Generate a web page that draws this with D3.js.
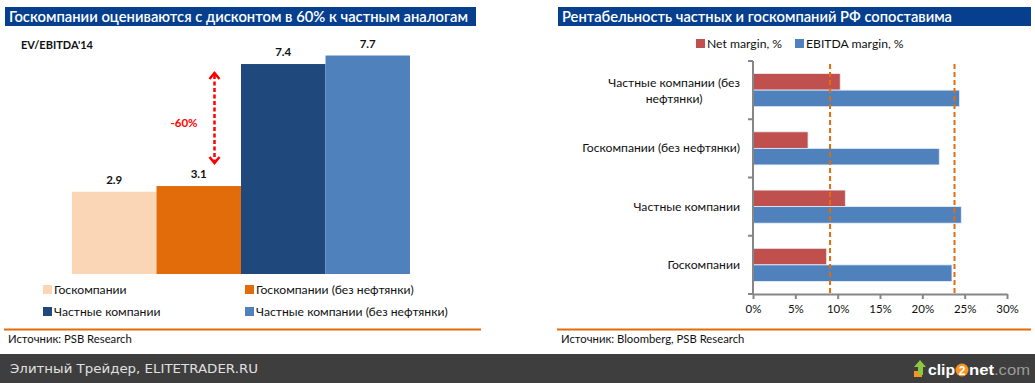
<!DOCTYPE html>
<html><head><meta charset="utf-8">
<script src="https://cdn.jsdelivr.net/npm/d3@7"></script>
<style>
html,body{margin:0;padding:0;background:#fff;}
svg{display:block;font-family:Lato,"Open Sans",sans-serif;}
</style></head>
<body>
<svg id="c" width="1035" height="383"></svg>
<script>
// ---------- data ----------
const valCats = ["Госкомпании","Госкомпании (без нефтянки)","Частные компании","Частные компании (без нефтянки)"];
const valValues = [2.9, 3.1, 7.4, 7.7];
const discountLabel = "-60%";

const marginCats = ["Частные компании (без нефтянки)","Госкомпании (без нефтянки)","Частные компании","Госкомпании"];
const netMargin = [10.3, 6.5, 10.9, 8.7];
const ebitdaMargin = [24.4, 22.0, 24.6, 23.5];
const refLines = [9.1, 23.8];
const marginTicks = [0, 5, 10, 15, 20, 25, 30];
const marginSeries = ["Net margin, %", "EBITDA margin, %"];

// ---------- styles ----------
const valColors = ["#FAD6B6", "#E36C0A", "#1F497D", "#4F81BD"];
const serColors = ["#C0504D", "#4F81BD"];
const titleBlue = "#063F8E";
const orange = "#E36C0A";
const axisGrey = "#868686";
const fs = 12.2;

const svg = d3.select("#c");

// ---------- LEFT PANEL ----------
svg.append("rect").attr("x",5).attr("y",7).attr("width",471).attr("height",19).attr("fill",titleBlue);
svg.append("text").attr("x",9).attr("y",21.5).attr("fill","#fff").attr("font-size",14.5).attr("font-weight",600)
  .attr("textLength",459).attr("lengthAdjust","spacingAndGlyphs")
  .text("Госкомпании оцениваются с дисконтом в 60% к частным аналогам");
svg.append("text").attr("x",21).attr("y",49).attr("fill","#111").attr("font-size",11).attr("font-weight",700)
  .text("EV/EBITDA'14");

const xL = d3.scaleBand().domain(valCats).range([72,410]).padding(0);
const yL = d3.scaleLinear().domain([0,8]).range([274,47]);

svg.append("g").selectAll("rect").data(valValues).join("rect")
  .attr("x",(d,i)=>xL(valCats[i])).attr("width",xL.bandwidth())
  .attr("y",d=>yL(d)).attr("height",d=>yL(0)-yL(d))
  .attr("fill",(d,i)=>valColors[i]);

svg.append("g").selectAll("text").data(valValues).join("text")
  .attr("x",(d,i)=>xL(valCats[i])+xL.bandwidth()/2).attr("y",d=>yL(d)-8)
  .attr("text-anchor","middle").attr("font-size",11.5).attr("font-weight",700).attr("fill","#111")
  .text(d=>d.toFixed(1));

// discount arrow between state (ex oil) and private
const ax = 214.5;
const aTop = yL(valValues[2]) + 9, aBot = yL(valValues[1]) - 23;
const red = "#FF0000";
svg.append("line").attr("x1",ax).attr("x2",ax).attr("y1",aTop+2).attr("y2",aBot-2)
  .attr("stroke",red).attr("stroke-width",2.5).attr("stroke-dasharray","4,2.5");
svg.append("path").attr("d",`M${ax-5},${aTop+6}L${ax},${aTop}L${ax+5},${aTop+6}`)
  .attr("fill","none").attr("stroke",red).attr("stroke-width",2.5);
svg.append("path").attr("d",`M${ax-5},${aBot-6}L${ax},${aBot}L${ax+5},${aBot-6}`)
  .attr("fill","none").attr("stroke",red).attr("stroke-width",2.5);
svg.append("text").attr("x",184).attr("y",127).attr("text-anchor","middle").attr("fill",red)
  .attr("font-size",11.5).attr("font-weight",700).text(discountLabel);

// legend
const legPos = [[43,285],[245,285],[43,307],[245,307]];
valCats.forEach((c,i)=>{
  const [lx,ly] = legPos[i];
  svg.append("rect").attr("x",lx).attr("y",ly).attr("width",9).attr("height",9).attr("fill",valColors[i]);
  svg.append("text").attr("x",lx+11).attr("y",ly+8.8).attr("font-size",fs).attr("fill","#111").text(c);
});

svg.append("line").attr("x1",4).attr("x2",481).attr("y1",329.5).attr("y2",329.5).attr("stroke",orange).attr("stroke-width",2);
svg.append("text").attr("x",8).attr("y",343).attr("font-size",11.3).attr("fill","#111").text("Источник: PSB Research");

// ---------- RIGHT PANEL ----------
svg.append("rect").attr("x",558).attr("y",7).attr("width",473).attr("height",19).attr("fill",titleBlue);
svg.append("text").attr("x",562).attr("y",21.5).attr("fill","#fff").attr("font-size",14.5).attr("font-weight",600)
  .attr("textLength",390).attr("lengthAdjust","spacingAndGlyphs")
  .text("Рентабельность частных и госкомпаний РФ сопоставима");

// legend
const rLeg = [[696,707],[795,806]];
marginSeries.forEach((s,i)=>{
  svg.append("rect").attr("x",rLeg[i][0]).attr("y",39).attr("width",9).attr("height",9).attr("fill",serColors[i]);
  svg.append("text").attr("x",rLeg[i][1]).attr("y",47.5).attr("font-size",fs).attr("fill","#111").text(s);
});

const xR = d3.scaleLinear().domain([0,30]).range([753,1007]);
const yR = d3.scaleBand().domain(marginCats).range([61,294]).padding(0);
const sub = d3.scaleBand().domain([0,1]).range([0,yR.bandwidth()]).paddingInner(0).paddingOuter(0.76);

const seriesData = [netMargin, ebitdaMargin];
seriesData.forEach((vals,si)=>{
  svg.append("g").selectAll("rect").data(vals).join("rect")
    .attr("x",xR(0)).attr("y",(d,i)=>yR(marginCats[i])+sub(si))
    .attr("width",d=>xR(d)-xR(0)).attr("height",sub.bandwidth())
    .attr("fill",serColors[si]).attr("stroke","#E6EEF7").attr("stroke-width",0.8);
});

// reference dashed lines
svg.append("g").selectAll("line").data(refLines).join("line")
  .attr("x1",d=>xR(d)).attr("x2",d=>xR(d)).attr("y1",64).attr("y2",294)
  .attr("stroke",orange).attr("stroke-width",2).attr("stroke-dasharray","5,3");

// axes
const xAxis = d3.axisBottom(xR).tickValues(marginTicks).tickSize(5).tickSizeOuter(0).tickFormat(d=>d+"%");
const gx = svg.append("g").attr("transform","translate(0,294)").call(xAxis);
gx.select(".domain").attr("stroke",axisGrey).attr("stroke-width",2);
gx.selectAll(".tick line").attr("stroke",axisGrey).attr("stroke-width",2);
gx.selectAll(".tick text").attr("font-size",11.5).attr("fill","#111").attr("dy",0).attr("y",19).attr("font-family","Lato,sans-serif");

// y axis line with ticks at category boundaries
const bounds = marginCats.map(c=>yR(c)).concat([yR.range()[1]]);
svg.append("line").attr("x1",753).attr("x2",753).attr("y1",61).attr("y2",294).attr("stroke",axisGrey).attr("stroke-width",2);
svg.append("g").selectAll("line").data(bounds).join("line")
  .attr("x1",748).attr("x2",753).attr("y1",d=>d).attr("y2",d=>d)
  .attr("stroke",axisGrey).attr("stroke-width",2);

// category labels
const lblG = svg.append("g");
marginCats.forEach((c,i)=>{
  const cy = yR(c) + yR.bandwidth()/2;
  if (c.length > 28) {
    const parts = [c.slice(0, c.indexOf("(")+4), c.slice(c.indexOf("(")+5)];
    const t1 = lblG.append("text").attr("x",740).attr("y",cy-3).attr("text-anchor","end")
      .attr("font-size",fs).attr("fill","#111").text(parts[0]);
    const w = t1.node().getComputedTextLength();
    lblG.append("text").attr("x",740-w/2).attr("y",cy+13).attr("text-anchor","middle")
      .attr("font-size",fs).attr("fill","#111").text(parts[1]);
  } else {
    lblG.append("text").attr("x",740).attr("y",cy+4).attr("text-anchor","end")
      .attr("font-size",fs).attr("fill","#111").text(c);
  }
});

svg.append("line").attr("x1",557).attr("x2",1031).attr("y1",329.5).attr("y2",329.5).attr("stroke",orange).attr("stroke-width",2);
svg.append("text").attr("x",561).attr("y",343).attr("font-size",11.3).attr("fill","#111").text("Источник: Bloomberg, PSB Research");

// ---------- FOOTER ----------
svg.append("rect").attr("x",0).attr("y",354).attr("width",1035).attr("height",29).attr("fill","#3E3E3E");
svg.append("text").attr("x",10).attr("y",373).attr("font-size",12.5).attr("fill","#E0E0E0")
  .attr("font-family","'DejaVu Sans',sans-serif").attr("textLength",248).attr("lengthAdjust","spacingAndGlyphs")
  .text("Элитный Трейдер, ELITETRADER.RU");
// clip2net logo
const lg = svg.append("g").attr("transform","translate(913,359)").attr("font-family","'Liberation Sans',Arial,sans-serif");
lg.append("rect").attr("x",1).attr("y",12).attr("width",8).attr("height",6).attr("fill","#F7931E");
lg.append("path").attr("d","M7,1 L13,8 L10,8 L10,16 L5,16 L5,8 L1,8 Z").attr("fill","#8DC63F");
lg.append("text").attr("x",15).attr("y",16).attr("font-size",14).attr("font-weight",700).attr("fill","#fff")
  .attr("textLength",27).attr("lengthAdjust","spacingAndGlyphs").text("clip");
lg.append("circle").attr("cx",49).attr("cy",11).attr("r",6.5).attr("fill","#F7931E");
lg.append("text").attr("x",49).attr("y",15.5).attr("text-anchor","middle").attr("font-size",12).attr("font-weight",700).attr("fill","#fff").text("2");
lg.append("text").attr("x",56).attr("y",16).attr("font-size",14).attr("font-weight",700).attr("fill","#fff")
  .attr("textLength",25).attr("lengthAdjust","spacingAndGlyphs").text("net");
lg.append("text").attr("x",81).attr("y",16).attr("font-size",14).attr("fill","#9A9A9A")
  .attr("textLength",36).attr("lengthAdjust","spacingAndGlyphs").text(".com");
</script>
</body></html>
